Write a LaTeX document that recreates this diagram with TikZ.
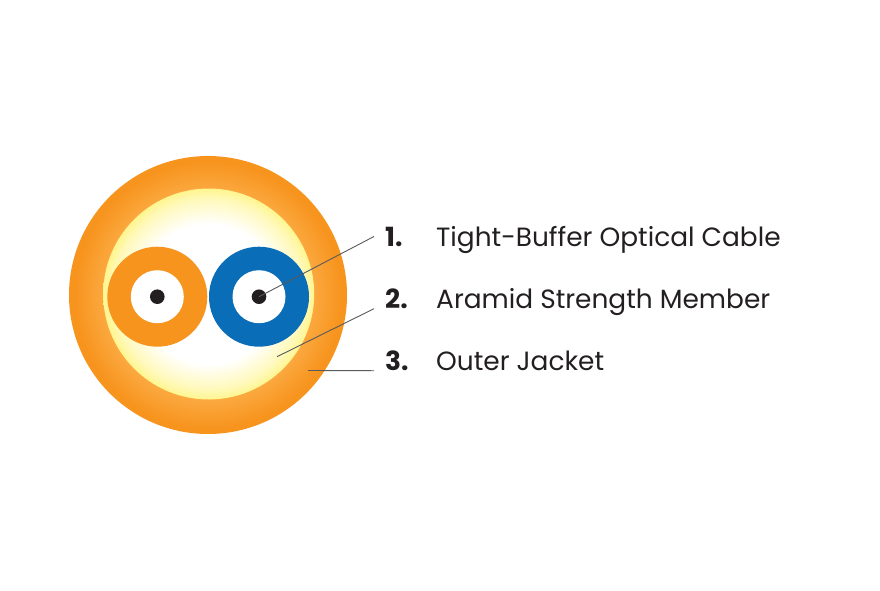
\documentclass[tikz,border=0pt]{standalone}
\usepackage{fontspec}
\setmainfont{Poppins}
\definecolor{jacket}{HTML}{F7941E}
\definecolor{jacketlight}{HTML}{FBA83F}
\definecolor{aramid}{HTML}{FFF58F}
\definecolor{bufferblue}{HTML}{0A6DB7}
\definecolor{coredark}{HTML}{231F20}
\definecolor{leadline}{HTML}{58595B}
\pgfdeclareradialshading{jacketshade}{\pgfpointorigin}{%
  color(0bp)=(jacketlight); color(19bp)=(jacketlight); color(24bp)=(jacket); color(50bp)=(jacket)}
\pgfdeclareradialshading{aramidshade}{\pgfpointorigin}{%
  color(0bp)=(white); color(16.5bp)=(white); color(22.5bp)=(aramid!60); color(25bp)=(aramid); color(50bp)=(aramid)}
\tikzset{
  disc/.style={circle, inner sep=0pt, minimum size=#1},
  core/.style={disc=14.6pt, fill=coredark},
  hole/.style={disc=53pt, fill=white},
  tube/.style={disc=100pt},
  numlabel/.style={anchor=base west, inner xsep=11pt, inner ysep=0pt, text=coredark, font=\fontsize{26.4}{26.4}\selectfont\bfseries},
  textlabel/.style={anchor=base west, inner sep=0pt, text=coredark, font=\fontsize{26.4}{26.4}\selectfont},
  leader/.style={draw=leadline, line width=0.9pt}
}
\begin{document}
\begin{tikzpicture}[x=1pt, y=-1pt]
  \useasboundingbox (0, 0) rectangle (880, 590);
  \node [disc=278pt, shading=jacketshade] (jacket) at (208, 295) {};
  \node [disc=211pt, shading=aramidshade] (fill) at (208.7, 294) {};
  \node [tube, fill=jacket] (tubeA) at (157.3, 296.7) {};
  \node [tube, fill=bufferblue] (tubeB) at (259, 296.7) {};
  \node [hole] (holeA) at (tubeA) {};
  \node [hole] (holeB) at (tubeB) {};
  \node [core] (coreA) at (tubeA) {};
  \node [core] (coreB) at (tubeB) {};
  \coordinate (endB) at (277, 356.7);
  \coordinate (endC) at (308, 370.5);
  \node [numlabel] (numA) at (374, 246) {1.};
  \node [numlabel] (numB) at (374, 308.7) {2.};
  \node [numlabel] (numC) at (374, 370.7) {3.};
  \node [textlabel] (textA) at (436, 246) {Tight-Buffer Optical Cable};
  \node [textlabel] (textB) at (436, 308.7) {Aramid Strength Member};
  \node [textlabel] (textC) at (436, 370.7) {Outer Jacket};
  \draw [leader] (numA.west) -- (coreB.center);
  \draw [leader] (numB.base west) -- (endB);
  \draw [leader] (numC.base west) -- (endC);
\end{tikzpicture}
\end{document}
